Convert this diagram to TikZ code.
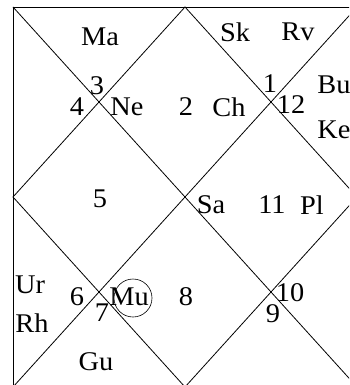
\documentclass[tikz,border=0pt]{standalone}
\usepackage{fontspec}
\setmainfont{Liberation Serif}[FakeStretch=1.05]
\tikzset{
    chart line/.style = {draw, line width=0.8pt},
    house/.style = {inner sep=0pt, font=\fontsize{27}{32}\selectfont},
}

\begin{document}
\begin{tikzpicture}[x=1pt, y=-1pt]
        \clip (0, 0) rectangle (349, 385);

        \coordinate (tl) at (13, 7);
        \coordinate (tr) at (357, 7);
        \coordinate (br) at (357, 387);
        \coordinate (bl) at (13, 387);
        \coordinate (top) at (185, 7);
        \coordinate (right) at (357, 197);
        \coordinate (bottom) at (185, 387);
        \coordinate (left) at (13, 197);

        \draw [chart line] (tl) rectangle (br);
        \draw [chart line] (tl) -- (br);
        \draw [chart line] (tr) -- (bl);
        \draw [chart line] (top) -- (right) -- (bottom) -- (left) -- cycle;

        \node [house] (ma) at (100, 37) {Ma};
        \node [house] (h3) at (97, 86) {3};
        \node [house] (h4) at (77, 107) {4};
        \node [house] (ne) at (127, 107) {Ne};

        \node [house] (sk) at (235, 32) {Sk};
        \node [house] (rv) at (298, 32) {Rv};
        \node [house] (h2) at (186, 107) {2};
        \node [house] (ch) at (229, 107) {Ch};
        \node [house] (h1) at (270, 84) {1};
        \node [house] (h12) at (291, 105) {12};
        \node [house] (bu) at (334, 85) {Bu};
        \node [house] (ke) at (334, 130) {Ke};

        \node [house] (h5) at (100, 199) {5};
        \node [house] (sa) at (211, 205) {Sa};
        \node [house] (h11) at (272, 205) {11};
        \node [house] (pl) at (312, 205) {Pl};

        \node [house] (ur) at (30, 285) {Ur};
        \node [house] (rh) at (32, 323) {Rh};
        \node [house] (h6) at (77, 297) {6};
        \node [house] (h7) at (102, 313) {7};
        \node [house] (mu) at (129, 297) {Mu};
        \draw [line width=0.6pt] (133, 298) circle (19);
        \node [house] (gu) at (96, 362) {Gu};

        \node [house] (h8) at (186, 297) {8};
        \node [house] (h10) at (290, 293) {10};
        \node [house] (h9) at (273, 314) {9};
    \end{tikzpicture}
\end{document}
